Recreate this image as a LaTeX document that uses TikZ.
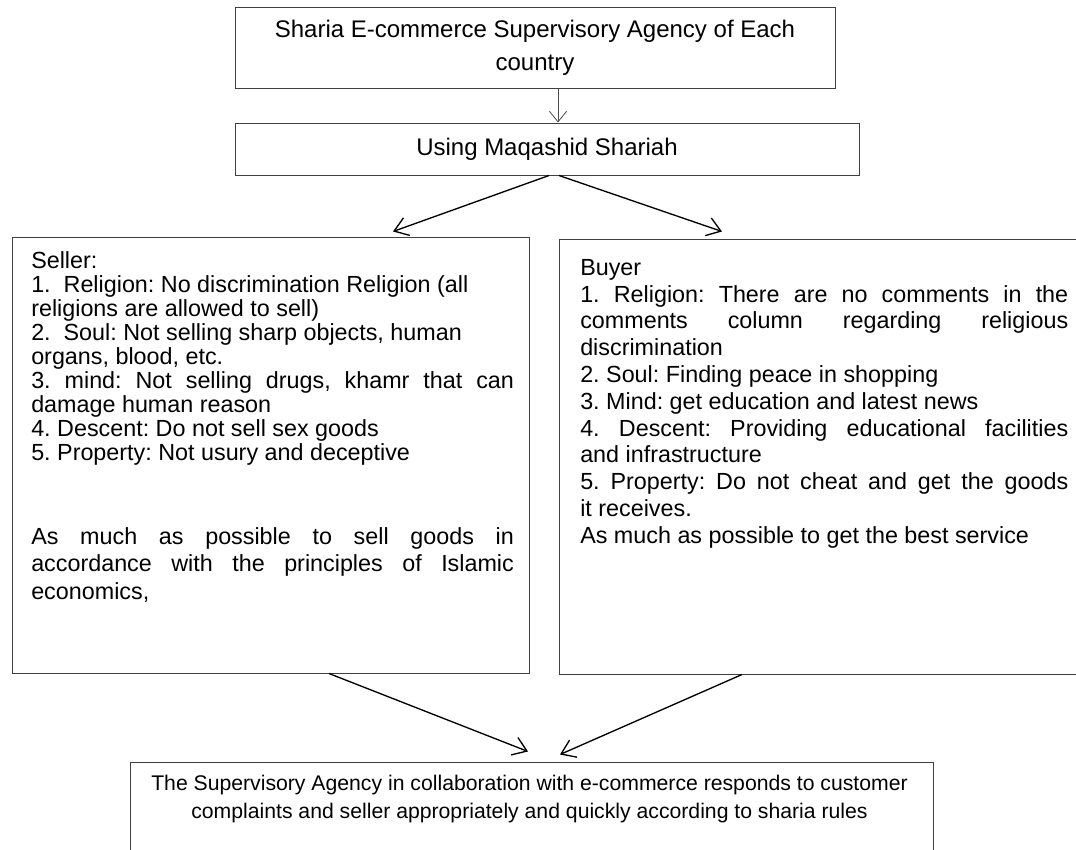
\documentclass[tikz,border=0pt]{standalone}
\usepackage{fontspec}
\setmainfont{Liberation Sans}
\setlength{\parindent}{0pt}
\frenchspacing
\usetikzlibrary{arrows.meta,calc}

\begin{document}
\begin{tikzpicture}[x=0.75pt,y=-0.75pt,
  box/.style={draw=black!75,line width=0.75pt,inner sep=0pt},
  txt/.style={inner sep=0pt,align=justify,anchor=north west},
  arr/.style={draw=black,line width=1pt,-{Straight Barb[length=10pt,width=14pt]}},
  thinarr/.style={draw=black!70,line width=0.6pt,-{Straight Barb[length=8pt,width=13pt]}}
]
  \path[use as bounding box,clip] (0,0) rectangle (1076,850);
  \node[box,minimum width=450pt,minimum height=60.75pt,align=center,
    font=\fontsize{18}{24.75}\selectfont] (agency) at (535,47.5)
    {Sharia E-commerce Supervisory Agency of Each\\country};
  \node[box,minimum width=468pt,minimum height=39pt,
    font=\fontsize{18}{22}\selectfont] (maqashid) at (547,149) {Using Maqashid Shariah};
  \node[box,minimum width=387.75pt,minimum height=327pt] (seller) at (270.5,455) {};
  \node[box,minimum width=398.25pt,minimum height=326.25pt] (buyer) at (824.5,456.5) {};
  \node[box,minimum width=602.25pt,minimum height=81pt] (rules) at (531.5,816) {};
  \node[txt,text width=362pt,font=\fontsize{17.5}{18}\selectfont] (sellerlist) at (31,251) {
    Seller:\par
    1.~ Religion: No discrimination Religion (all\newline religions are allowed to sell)\par
    2.~ Soul: Not selling sharp objects, human\newline organs, blood, etc.\par
    3. mind: Not selling drugs, khamr that can\linebreak damage human reason\par
    4. Descent: Do not sell sex goods\par
    5. Property: Not usury and deceptive};
  \node[txt,text width=362pt,font=\fontsize{17.5}{20.6}\selectfont] (sellernote) at (31,527) {
    As much as possible to sell goods in\linebreak accordance with the principles of Islamic\linebreak economics,};
  \node[txt,text width=366pt,font=\fontsize{17.5}{20.1}\selectfont] (buyerlist) at (580,259) {
    Buyer\par
    1. Religion: There are no comments in the\linebreak comments column regarding religious\linebreak discrimination\par
    2. Soul: Finding peace in shopping\par
    3. Mind: get education and latest news\par
    4. Descent: Providing educational facilities\linebreak and infrastructure\par
    5. Property: Do not cheat and get the goods\linebreak it receives.\par
    As much as possible to get the best service};
  \node[inner sep=0pt,align=center,anchor=north,font=\fontsize{15.9}{21}\selectfont] (rulestext) at (529.5,775)
    {The Supervisory Agency in collaboration with e-commerce responds to customer\\
     complaints and seller appropriately and quickly according to sharia rules};
  \draw[thinarr] ($(agency.south)+(23,0)$) -- ($(maqashid.north)+(11,0)$);
  \draw[arr] ($(maqashid.south)+(2,0)$) -- ($(seller.north)+(122.5,-5)$);
  \draw[arr] ($(maqashid.south)+(12,0)$) -- ($(buyer.north)+(-102.5,-7)$);
  \draw[arr] ($(seller.south)+(58.5,0)$) -- ($(rules.north)+(-3.5,-10)$);
  \draw[arr] ($(buyer.south)+(-82.5,0)$) -- ($(rules.north)+(28.5,-7)$);
\end{tikzpicture}
\end{document}
